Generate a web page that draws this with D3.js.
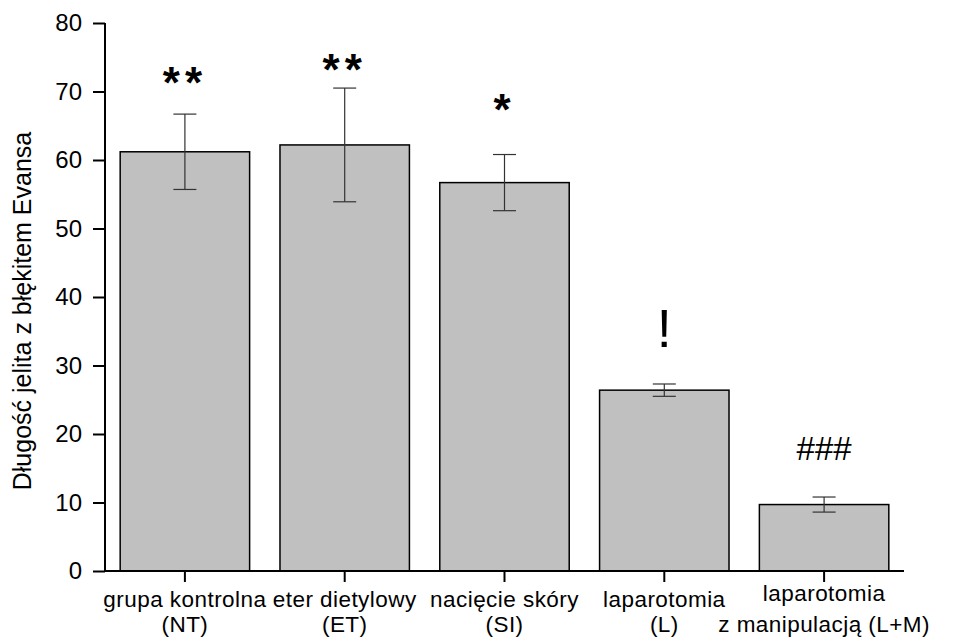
<!DOCTYPE html>
<html>
<head>
<meta charset="utf-8">
<script src="https://cdn.jsdelivr.net/npm/d3@7"></script>
<style>
  body { margin: 0; background: #fff; }
  svg { font-family: "Liberation Sans", Arial, sans-serif; }
</style>
</head>
<body>
<svg id="chart" width="967" height="640"></svg>
<script>
const groups = ["grupa kontrolna|(NT)", "eter dietylowy|(ET)", "nacięcie skóry|(SI)", "laparotomia|(L)", "laparotomia|z manipulacją (L+M)"];
const means = [61.2, 62.2, 56.7, 26.4, 9.7];
const errors = [5.5, 8.3, 4.1, 0.9, 1.1];
const marks = ["**", "**", "*", "!", "###"];
// level (in axis units) of each mark's baseline
const markLevels = [69.0, 70.9, 65.1, 32.7, 16.2];
const yTicks = [0, 10, 20, 30, 40, 50, 60, 70, 80];

const svg = d3.select("#chart");
const plotLeft = 105, plotRight = 904, plotTop = 23, plotBottom = 571;

const x = d3.scaleBand()
    .domain(groups)
    .range([plotLeft, plotRight])
    .paddingInner(0.19)
    .paddingOuter(0.095);

const y = d3.scaleLinear().domain([0, 80]).range([plotBottom, plotTop]);

// bars
svg.append("g").selectAll("rect")
    .data(groups)
    .join("rect")
    .attr("x", d => x(d))
    .attr("y", (d, i) => y(means[i]))
    .attr("width", x.bandwidth())
    .attr("height", (d, i) => y(0) - y(means[i]))
    .attr("fill", "#c0c0c0")
    .attr("stroke", "#000")
    .attr("stroke-width", 1.5);

// error bars
const err = svg.append("g").attr("stroke", "#333").attr("stroke-width", 1.2);
groups.forEach((g, i) => {
    const cx = x(g) + x.bandwidth() / 2;
    const hi = y(means[i] + errors[i]), lo = y(means[i] - errors[i]);
    err.append("line").attr("x1", cx).attr("x2", cx).attr("y1", hi).attr("y2", lo);
    err.append("line").attr("x1", cx - 11.5).attr("x2", cx + 11.5).attr("y1", hi).attr("y2", hi);
    err.append("line").attr("x1", cx - 11.5).attr("x2", cx + 11.5).attr("y1", lo).attr("y2", lo);
});

// significance marks
const markSize = m => m === "!" ? 54 : m === "###" ? 33 : 44;
svg.append("g").selectAll("text")
    .data(groups)
    .join("text")
    .attr("x", d => x(d) + x.bandwidth() / 2)
    .attr("y", (d, i) => y(markLevels[i]))
    .attr("text-anchor", "middle")
    .attr("font-size", (d, i) => markSize(marks[i]))
    .attr("font-weight", (d, i) => marks[i].startsWith("*") ? "bold" : "normal")
    .attr("letter-spacing", (d, i) => marks[i].startsWith("*") ? 5 : 0)
    .text((d, i) => marks[i]);

// y axis
const yAxis = svg.append("g")
    .attr("transform", `translate(${plotLeft},0)`)
    .call(d3.axisLeft(y).tickValues(yTicks).tickSize(12).tickPadding(11));
yAxis.select(".domain").attr("stroke-width", 2).attr("d", `M0,${plotTop}V${plotBottom}`);
yAxis.selectAll(".tick line").attr("stroke-width", 2);
yAxis.selectAll(".tick text").attr("font-size", 24).attr("font-family", "Liberation Sans, Arial, sans-serif");

// x axis
const xAxis = svg.append("g")
    .attr("transform", `translate(0,${plotBottom})`)
    .call(d3.axisBottom(x).tickSize(11).tickFormat(""));
xAxis.select(".domain").attr("stroke-width", 2).attr("d", `M${plotLeft},0H${plotRight}`);
xAxis.selectAll(".tick line").attr("stroke-width", 2);

xAxis.selectAll(".tick").each(function(d, i) {
    const parts = d.split("|");
    const t = d3.select(this).append("text")
        .attr("fill", "#000")
        .attr("text-anchor", "middle")
        .attr("font-size", 22.5)
        .attr("letter-spacing", 0.45)
        .attr("font-family", "Liberation Sans, Arial, sans-serif");
    const first = i === groups.length - 1 ? 30 : 36;
    parts.forEach((p, k) => {
        t.append("tspan").attr("x", 0).attr("y", k === 0 ? first : 61).text(p);
    });
});

// y label
svg.append("text")
    .attr("transform", `translate(31,${(plotTop + plotBottom) / 2 + 14}) rotate(-90)`)
    .attr("text-anchor", "middle")
    .attr("font-size", 25)
    .text("Długość jelita z błękitem Evansa");
</script>
</body>
</html>
